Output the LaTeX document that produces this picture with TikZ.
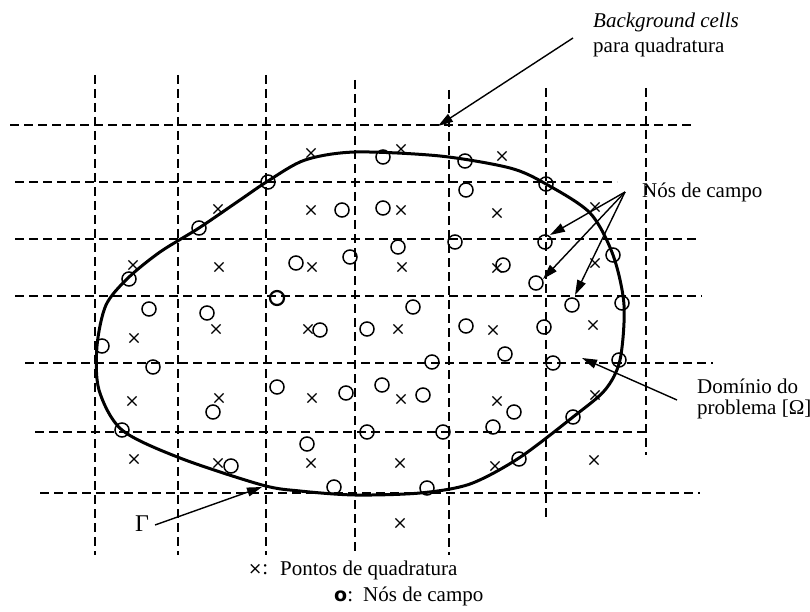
\documentclass[tikz,border=0pt]{standalone}
\usepackage{fontspec}
\setmainfont{Liberation Serif}
\newfontfamily\symfont{DejaVu Sans}
\usetikzlibrary{arrows.meta,shapes.misc}
\begin{document}
\begin{tikzpicture}[x=1pt,y=-1pt,
  gridline/.style={line width=1.8pt, dash pattern=on 9pt off 5pt},
  bnd/.style={line width=3pt, line join=round},
  ncirc/.style={circle, draw, line width=1.5pt, minimum size=14pt, inner sep=0pt},
  qcross/.style={cross out, draw, line width=1.2pt, minimum size=8pt, inner sep=0pt},
  lbl/.style={font=\fontsize{21}{25}\selectfont, inner sep=0pt, anchor=west},
  arr/.style={line width=1.4pt, -{Triangle[length=15pt,width=9pt]}}
]
\useasboundingbox (0,0) rectangle (810,612);
% grid: horizontal
\draw[gridline] (10,125) -- (695,125);
\draw[gridline] (15,182) -- (617,182);
\draw[gridline] (15,239) -- (700,239);
\draw[gridline] (15,296) -- (702,296);
\draw[gridline] (25,363) -- (713,363);
\draw[gridline] (35,432) -- (645,432);
\draw[gridline] (40,493) -- (700,493);
% grid: vertical
\draw[gridline] (95,75) -- (95,555);
\draw[gridline] (178,75) -- (178,555);
\draw[gridline] (266,75) -- (266,555);
\draw[gridline] (355,80) -- (355,555);
\draw[gridline] (449,90) -- (449,555);
\draw[gridline] (546,88) -- (546,520);
\draw[gridline] (646,88) -- (646,455);
% boundary
\draw[bnd] plot[smooth cycle] coordinates {(355,152) (440,156) (510,168) (546,184) (590,213) (613,255) (624,305) (620,360) (605,390) (573,417) (519,458) (470,484) (420,493) (355,495) (300,491) (262,485) (180,458) (122,430) (99,390) (97,346) (106,305) (128,278) (160,252) (199,228) (240,200) (268,181) (305,160)};
% field nodes
\foreach \x/\y [count=\i] in {268/182,199/228,129/279,102/346,122/430,231/466,334/487,427/488,519/459,573/417,619/360,622/303,613/255,546/184,465/161,383/157,
342/210,383/208,466/190,455/242,398/247,350/257,296/263,503/265,545/242,536/283,572/305,413/307,149/309,207/313,153/367,320/330,367/329,466/326,544/327,505/354,553/363,432/362,277/387,346/393,382/385,423/395,213/412,514/412,493/427,367/432,443/432,307/444}
  \node[ncirc] (n\i) at (\x,\y) {};
\node[ncirc, line width=2.2pt] (nb) at (277,298) {};
% quadrature points
\foreach \x/\y [count=\i] in {218/209,311/153,401/149,502/156,311/210,401/210,497/213,595/207,133/265,219/267,312/267,402/267,497/268,595/263,216/329,134/338,308/329,398/329,493/330,593/325,132/401,219/398,312/398,401/399,497/401,595/395,134/459,218/463,311/463,400/463,495/466,594/460,400/523}
  \node[qcross] (q\i) at (\x,\y) {};
% labels
\node[lbl, font=\fontsize{21}{25}\selectfont\itshape] (bg1) at (593,22) {Background cells};
\node[lbl] (bg2) at (593,47) {para quadratura};
\node[lbl] (nos) at (642,192) {Nós de campo};
\node[lbl] (dom1) at (697,386) {Domínio do};
\node[lbl] (dom2) at (697,409) {problema [Ω]};
\node[lbl, anchor=center, font=\fontsize{24}{28}\selectfont] (gam) at (142,524) {Γ};
\node[lbl] (leg1x) at (248,570) {{\symfont\fontsize{17}{20}\selectfont ×}:};
\node[lbl] (leg1) at (280,570) {Pontos de quadratura};
\node[lbl] (leg2x) at (334,596) {{\symfont\bfseries\fontsize{19}{22}\selectfont o}:};
\node[lbl] (leg2) at (363,596) {Nós de campo};
% arrow sources / targets
\coordinate (bgs) at (573,38);
\coordinate (bgt) at (438,126);
\coordinate (apex) at (625,192);
\coordinate (t1) at (550,235);
\coordinate (t2) at (543,279);
\coordinate (t3) at (575,295);
\coordinate (ds) at (677,400);
\coordinate (dt) at (582,358);
\coordinate (gs) at (155,525);
\coordinate (gt) at (262,487);
\draw[arr] (bgs) -- (bgt);
\draw[arr] (apex) -- (t1);
\draw[arr] (apex) -- (t2);
\draw[arr] (apex) -- (t3);
\draw[arr] (ds) -- (dt);
\draw[arr] (gs) -- (gt);
\end{tikzpicture}
\end{document}
